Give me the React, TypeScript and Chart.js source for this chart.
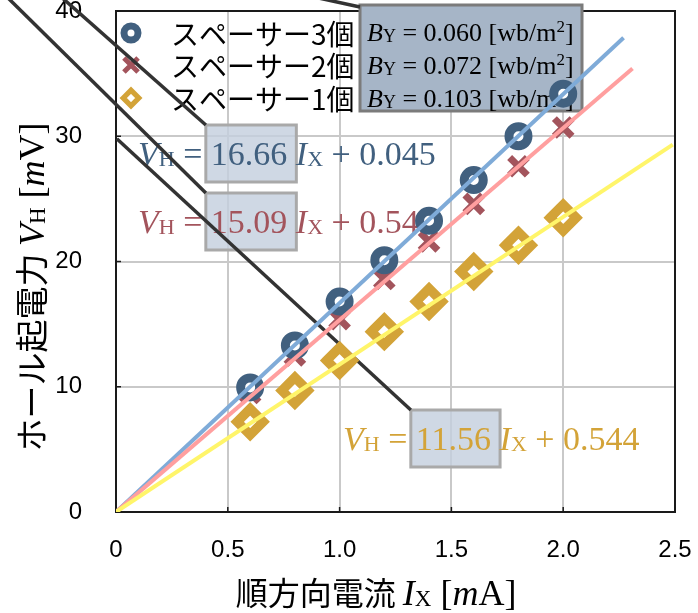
import { useEffect, useRef } from 'react';
import { Chart, registerables } from 'chart.js';

Chart.register(...registerables);

// Measured Hall voltage V_H [mV] against forward current I_X [mA]
const currentMA = [0.6, 0.8, 1.0, 1.2, 1.4, 1.6, 1.8, 2.0];
const hallSpacer3 = [9.95, 13.3, 16.8, 20.1, 23.25, 26.5, 30.0, 33.4];
const hallSpacer2 = [9.5, 12.5, 15.4, 18.6, 21.6, 24.6, 27.6, 30.7];
const hallSpacer1 = [7.2, 9.7, 12.1, 14.4, 16.8, 19.2, 21.3, 23.5];

const seriesNames = ['スペーサー3個', 'スペーサー2個', 'スペーサー1個'];
const fieldValues = ['0.060', '0.072', '0.103'];

// Least-squares fits V_H = a I_X + b, and the current where each fit line stops
const fitSlopes = [16.66, 15.09, 11.56];
const fitIntercepts = [0.045, 0.543, 0.544];
const fitEnds = [2.27, 2.31, 2.49];

const xTicks = [0, 0.5, 1.0, 1.5, 2.0, 2.5];
const yTicks = [0, 10, 20, 30, 40];

const SERIF = '"Liberation Serif", "DejaVu Serif", serif';
const SANS = '"Liberation Sans", Arial, sans-serif';
const CJK = '"Noto Sans CJK JP", "Noto Sans", sans-serif';

const markerColors = ['#41607f', '#a3545c', '#d3a338'];
const textColors = ['#41607f', '#a3545c', '#d3a338'];
const lineColors = ['#7fabd8', '#ff9f9f', '#fff56a'];

type Run = { text: string; font: string; dy?: number; boxed?: boolean };

function layoutRuns(ctx: CanvasRenderingContext2D, runs: Run[], x: number) {
  let cx = x;
  return runs.map((r) => {
    ctx.font = r.font;
    const w = ctx.measureText(r.text).width;
    const item = { ...r, x: cx, w };
    cx += w;
    return item;
  });
}

function runsWidth(ctx: CanvasRenderingContext2D, runs: Run[]) {
  let w = 0;
  for (const r of runs) {
    ctx.font = r.font;
    w += ctx.measureText(r.text).width;
  }
  return w;
}

function fillRuns(ctx: CanvasRenderingContext2D, runs: Run[], x: number, y: number, color: string) {
  ctx.fillStyle = color;
  ctx.textAlign = 'left';
  ctx.textBaseline = 'alphabetic';
  for (const r of layoutRuns(ctx, runs, x)) {
    ctx.font = r.font;
    ctx.fillText(r.text, r.x, y + (r.dy || 0));
  }
}

function drawMarker(
  ctx: CanvasRenderingContext2D,
  kind: string,
  x: number,
  y: number,
  r: number,
  bw: number,
  color: string
) {
  ctx.save();
  ctx.lineWidth = bw;
  ctx.strokeStyle = color;
  ctx.fillStyle = '#fff';
  ctx.lineJoin = 'miter';
  ctx.beginPath();
  if (kind === 'circle') {
    ctx.arc(x, y, r, 0, Math.PI * 2);
    ctx.fill();
    ctx.stroke();
  } else if (kind === 'crossRot') {
    const d = r * Math.SQRT1_2;
    ctx.moveTo(x - d, y - d);
    ctx.lineTo(x + d, y + d);
    ctx.moveTo(x + d, y - d);
    ctx.lineTo(x - d, y + d);
    ctx.stroke();
  } else {
    ctx.moveTo(x - r, y);
    ctx.lineTo(x, y - r);
    ctx.lineTo(x + r, y);
    ctx.lineTo(x, y + r);
    ctx.closePath();
    ctx.fill();
    ctx.stroke();
  }
  ctx.restore();
}

function leader(ctx: CanvasRenderingContext2D, ex: number, ey: number, dx: number, dy: number) {
  // dark connector coming in from beyond the top-left edge
  ctx.beginPath();
  ctx.moveTo(ex - dx * 400, ey - dy * 400);
  ctx.lineTo(ex, ey);
  ctx.stroke();
}

const annotationPlugin = {
  id: 'hallAnnotations',
  beforeDatasetsDraw(chart: any) {
    const ctx: CanvasRenderingContext2D = chart.ctx;
    const { left, right, top, bottom } = chart.chartArea;
    const xs = chart.scales.x;
    const ys = chart.scales.y;
    ctx.save();

    // frame
    ctx.strokeStyle = '#1a1a1a';
    ctx.lineWidth = 2;
    ctx.strokeRect(left, top, right - left, bottom - top);

    // inward tick marks
    ctx.lineWidth = 1.5;
    ctx.beginPath();
    for (const v of xTicks) {
      const px = xs.getPixelForValue(v);
      ctx.moveTo(px, bottom);
      ctx.lineTo(px, bottom - 5);
    }
    for (const v of yTicks) {
      const py = ys.getPixelForValue(v);
      ctx.moveTo(left, py);
      ctx.lineTo(left + 5, py);
    }
    ctx.stroke();

    // fit equations with the slope highlighted
    const eqAnchors = [
      { x: 138, y: 165 },
      { x: 138, y: 233 },
      { x: 343, y: 450 },
    ];
    const boxCorners: { x: number; y: number }[] = [];
    fitSlopes.forEach((a, i) => {
      const S = 34;
      const runs: Run[] = [
        { text: 'V', font: `italic ${S}px ${SERIF}` },
        { text: 'H', font: `22px ${SERIF}`, dy: 1 },
        { text: ' = ', font: `${S}px ${SERIF}` },
        { text: a.toFixed(2), font: `${S}px ${SERIF}`, boxed: true },
        { text: ' ', font: `${S}px ${SERIF}` },
        { text: 'I', font: `italic ${S}px ${SERIF}` },
        { text: 'X', font: `22px ${SERIF}`, dy: 1 },
        { text: ' + ' + fitIntercepts[i].toFixed(3), font: `${S}px ${SERIF}` },
      ];
      const { x, y } = eqAnchors[i];
      const laid = layoutRuns(ctx, runs, x);
      const num = laid.find((r) => r.boxed)!;
      const bx = num.x - 5;
      const by = y - 40;
      const bw = num.w + 14;
      const bh = 57;
      ctx.fillStyle = 'rgba(197, 208, 222, 0.82)';
      ctx.fillRect(bx, by, bw, bh);
      ctx.strokeStyle = '#a9a9a9';
      ctx.lineWidth = 3;
      ctx.strokeRect(bx, by, bw, bh);
      boxCorners.push({ x: bx, y: by });
      fillRuns(ctx, runs, x, y, textColors[i]);
    });

    // magnetic flux density panel
    const pb = { x: 360, y: 5, w: 222, h: 106 };
    ctx.fillStyle = '#a6b5c7';
    ctx.fillRect(pb.x, pb.y, pb.w, pb.h);
    ctx.strokeStyle = '#7b7b7b';
    ctx.lineWidth = 3;
    ctx.strokeRect(pb.x, pb.y, pb.w, pb.h);
    const rowBase = [41, 74, 107];
    const rowMid = [33, 65, 98];
    fieldValues.forEach((b, i) => {
      const runs: Run[] = [
        { text: 'B', font: `italic 26px ${SERIF}` },
        { text: 'Y', font: `18px ${SERIF}`, dy: 1 },
        { text: ' = ' + b + ' [wb/m', font: `26px ${SERIF}` },
        { text: '2', font: `17px ${SERIF}`, dy: -9 },
        { text: ']', font: `26px ${SERIF}` },
      ];
      fillRuns(ctx, runs, 367, rowBase[i], '#000');
    });

    // legend
    const legendMarkers = [
      { kind: 'circle', r: 7, bw: 7 },
      { kind: 'crossRot', r: 10, bw: 5 },
      { kind: 'rectRot', r: 7.75, bw: 5.3 },
    ];
    seriesNames.forEach((name, i) => {
      const m = legendMarkers[i];
      drawMarker(ctx, m.kind, 131, rowMid[i], m.r, m.bw, markerColors[i]);
      ctx.font = `28px ${CJK}`;
      ctx.fillStyle = '#000';
      ctx.textAlign = 'left';
      ctx.textBaseline = 'middle';
      ctx.fillText(name, 171, rowMid[i] + 1);
    });

    // connectors
    ctx.strokeStyle = '#333';
    ctx.lineWidth = 3.5;
    ctx.lineCap = 'butt';
    leader(ctx, boxCorners[0].x, boxCorners[0].y, 0.749, 0.663);
    leader(ctx, boxCorners[1].x, boxCorners[1].y, 0.712, 0.702);
    leader(ctx, boxCorners[2].x, boxCorners[2].y, 0.735, 0.678);
    leader(ctx, pb.x, pb.y + 2, 0.977, 0.212);

    ctx.restore();
  },
  afterDraw(chart: any) {
    const ctx: CanvasRenderingContext2D = chart.ctx;
    ctx.save();
    // x-axis title
    const xRuns: Run[] = [
      { text: '順方向電流 ', font: `32px ${CJK}` },
      { text: 'I', font: `italic 36px ${SERIF}` },
      { text: 'X', font: `23px ${SERIF}`, dy: 1 },
      { text: ' [', font: `36px ${SERIF}` },
      { text: 'm', font: `italic 36px ${SERIF}` },
      { text: 'A]', font: `36px ${SERIF}` },
    ];
    const xw = runsWidth(ctx, xRuns);
    fillRuns(ctx, xRuns, 376 - xw / 2, 605, '#000');

    // y-axis title
    const yRuns: Run[] = [
      { text: 'ホール起電力 ', font: `33px ${CJK}` },
      { text: 'V', font: `italic 36px ${SERIF}` },
      { text: 'H', font: `23px ${SERIF}`, dy: 1 },
      { text: ' [', font: `36px ${SERIF}` },
      { text: 'm', font: `italic 36px ${SERIF}` },
      { text: 'V]', font: `36px ${SERIF}` },
    ];
    const yw = runsWidth(ctx, yRuns);
    ctx.translate(44, 287);
    ctx.rotate(-Math.PI / 2);
    fillRuns(ctx, yRuns, -yw / 2, 0, '#000');
    ctx.restore();
  },
};

const toPoints = (ys: number[]) => currentMA.map((x, i) => ({ x, y: ys[i] }));
const fitLine = (i: number) => [
  { x: 0, y: 0 },
  { x: fitEnds[i], y: fitSlopes[i] * fitEnds[i] + fitIntercepts[i] },
];

export default function App() {
  const ref = useRef<HTMLCanvasElement>(null);

  useEffect(() => {
    const canvas = ref.current;
    if (!canvas) return;
    const tickFont = { family: SANS, size: 24, lineHeight: 1 };
    const chart = new Chart(canvas, {
      type: 'scatter',
      data: {
        datasets: [
          {
            label: seriesNames[0],
            data: toPoints(hallSpacer3),
            pointStyle: 'circle',
            pointRadius: 9.5,
            pointBorderWidth: 9,
            pointBorderColor: markerColors[0],
            pointBackgroundColor: '#fff',
            showLine: false,
            order: 4,
          },
          {
            label: seriesNames[1],
            data: toPoints(hallSpacer2),
            pointStyle: 'crossRot',
            pointRadius: 12.5,
            pointBorderWidth: 7,
            pointBorderColor: markerColors[1],
            pointBackgroundColor: markerColors[1],
            showLine: false,
            order: 5,
          },
          {
            label: seriesNames[2],
            data: toPoints(hallSpacer1),
            pointStyle: 'rectRot',
            pointRadius: 13,
            pointBorderWidth: 9.5,
            pointBorderColor: markerColors[2],
            pointBackgroundColor: '#fff',
            showLine: false,
            order: 6,
          },
          ...[0, 1, 2].map((i) => ({
            label: 'fit' + i,
            data: fitLine(i),
            showLine: true,
            borderColor: lineColors[i],
            borderWidth: 4,
            pointRadius: 0,
            fill: false,
            order: 3 - i,
          })),
        ],
      },
      options: {
        responsive: false,
        animation: false,
        events: [],
        layout: { autoPadding: false, padding: { top: 11, right: 23, left: 0, bottom: 0 } },
        plugins: { legend: { display: false }, tooltip: { enabled: false } },
        scales: {
          x: {
            type: 'linear',
            min: 0,
            max: 2.5,
            afterBuildTicks: (s: any) => {
              s.ticks = xTicks.map((v) => ({ value: v }));
            },
            afterFit: (s: any) => {
              s.height = 101;
              s.paddingLeft = 0;
              s.paddingRight = 0;
            },
            ticks: {
              callback: (v: any) => (Number(v) === 0 ? '0' : Number(v).toFixed(1)),
              font: tickFont,
              color: '#000',
              padding: 26,
              maxRotation: 0,
              autoSkip: false,
            },
            grid: { color: '#c9c9c9', lineWidth: 2, drawTicks: false },
            border: { display: false },
          },
          y: {
            type: 'linear',
            min: 0,
            max: 40,
            afterBuildTicks: (s: any) => {
              s.ticks = yTicks.map((v) => ({ value: v }));
            },
            afterFit: (s: any) => {
              s.width = 116;
              s.paddingTop = 0;
              s.paddingBottom = 0;
            },
            ticks: {
              callback: (v: any) => String(v),
              font: tickFont,
              color: '#000',
              padding: 34,
              autoSkip: false,
            },
            grid: { color: '#c9c9c9', lineWidth: 2, drawTicks: false },
            border: { display: false },
          },
        },
      } as any,
      plugins: [annotationPlugin],
    });
    return () => chart.destroy();
  }, []);

  return (
    <div style={{ position: 'fixed', left: 0, top: 0, width: 698, height: 613, background: '#fff' }}>
      <canvas ref={ref} width={698} height={613} style={{ display: 'block', width: 698, height: 613 }} />
    </div>
  );
}
